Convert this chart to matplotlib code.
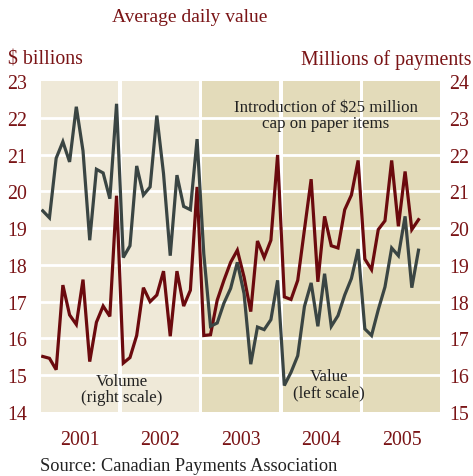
import numpy as np
import matplotlib
matplotlib.use("Agg")
import matplotlib.pyplot as plt

# monthly data, Jan 2001 - Sep 2005
years = [2001, 2002, 2003, 2004, 2005]
value_bn = [
    19.47, 19.28, 20.9, 21.35, 20.8, 22.3, 21.1, 18.67, 20.6, 20.5, 19.8, 22.38,
    18.2, 18.52, 20.69, 19.9, 20.12, 22.06, 20.48, 18.25, 20.44, 19.59, 19.5, 21.42,
    18.3, 16.33, 16.42, 16.96, 17.36, 18.07, 17.22, 15.3, 16.31, 16.24, 16.51, 17.58,
    14.72, 15.08, 15.53, 16.87, 17.51, 16.33, 17.76, 16.33, 16.62, 17.18, 17.63, 18.43,
    16.26, 16.08, 16.78, 17.4, 18.46, 18.25, 19.32, 17.38, 18.4,
]
volume_mn = [
    16.51, 16.46, 16.15, 18.45, 17.64, 17.38, 18.6, 16.37, 17.44, 17.88, 17.6, 20.88,
    16.33, 16.48, 17.08, 18.38, 18.0, 18.18, 18.83, 17.06, 18.83, 17.88, 18.31, 21.12,
    17.08, 17.1, 18.04, 18.58, 19.07, 19.4, 18.67, 17.73, 19.65, 19.2, 19.67, 21.99,
    18.13, 18.06, 18.58, 19.96, 21.33, 18.54, 20.32, 19.52, 19.46, 20.5, 20.9, 21.84,
    19.16, 18.87, 19.96, 20.2, 21.84, 20.05, 21.54, 19.96, 20.23,
]
left_ticks = list(range(14, 24))
right_ticks = list(range(15, 25))

RED_TXT = "#7a1416"
RED = "#6b0a0e"
GRAY = "#3a4543"
LIGHT = "#efe9d8"
DARK = "#e3dbba"
FONT = "Liberation Serif"

W, H = 473, 477
fig = plt.figure(figsize=(W / 100, H / 100), dpi=100)
ax = fig.add_axes([41 / W, 1 - 413 / H, 401 / W, 331 / H])
ax2 = ax.twinx()

x = 2001 + (np.arange(len(value_bn)) + 0.5) / 12

# year panels and white grid go on the bottom (right-scale) axes
gap = 0.02
for y in years:
    ax2.axvspan(y + gap, y + 1 - gap, color=LIGHT if y < 2003 else DARK, lw=0, zorder=0)
for t in right_ticks[1:-1]:
    ax2.axhline(t, color="white", lw=2.0, zorder=1)

ax.plot(x, value_bn, color=GRAY, lw=2.3, zorder=3, solid_joinstyle="miter")
ax2.plot(x, volume_mn, color=RED, lw=2.3, zorder=3, solid_joinstyle="miter")

ax.set_xlim(2001.02, 2006.0)
ax.set_ylim(14, 23)
ax2.set_ylim(15, 24)
ax.set_yticks(left_ticks)
ax2.set_yticks(right_ticks)
ax.set_xticks([y + 0.5 for y in years])
ax.set_xticklabels([str(y) for y in years])
for a in (ax, ax2):
    for s in a.spines.values():
        s.set_visible(False)
    a.tick_params(length=0, labelsize=14.3, labelcolor=RED_TXT)
    for lab in a.get_yticklabels() + a.get_xticklabels():
        lab.set_fontfamily(FONT)
ax.tick_params(axis="y", pad=10)
ax2.tick_params(axis="y", pad=5)
ax.tick_params(axis="x", pad=13)
ax.set_zorder(ax2.get_zorder() + 1)
ax.patch.set_visible(False)
ax2.patch.set_visible(False)


def px(xp, yp):
    return xp / W, 1 - yp / H


fig.text(*px(190, 18), "Average daily value", color=RED_TXT, fontsize=14,
         family=FONT, ha="center", va="center")
fig.text(*px(8, 60), "$ billions", color=RED_TXT, fontsize=14.3,
         family=FONT, ha="left", va="center")
fig.text(*px(471, 60), "Millions of payments", color=RED_TXT, fontsize=14.3,
         family=FONT, ha="right", va="center")
fig.text(*px(326, 116), "Introduction of $25 million\ncap on paper items",
         color="#222222", fontsize=12.2, family=FONT, ha="center", va="center",
         linespacing=1.0)
fig.text(*px(122, 390), "Volume\n(right scale)", color="#222222", fontsize=12.2,
         family=FONT, ha="center", va="center", linespacing=1.0)
fig.text(*px(329, 385), "Value\n(left scale)", color="#222222", fontsize=12.2,
         family=FONT, ha="center", va="center", linespacing=1.0)
fig.text(*px(40, 467), "Source: Canadian Payments Association", color="#222222",
         fontsize=13.2, family=FONT, ha="left", va="center")

fig.savefig("out.png", dpi=100, facecolor="white")
